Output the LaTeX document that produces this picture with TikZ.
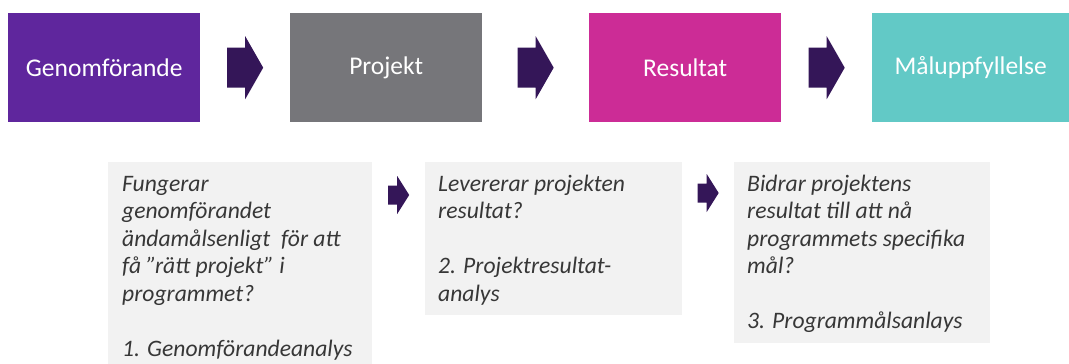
\documentclass[tikz,border=0pt]{standalone}
\usepackage{fontspec}
\setmainfont{Carlito}
\usetikzlibrary{calc}
\definecolor{cpurple}{RGB}{95,38,157}
\definecolor{cgrey}{RGB}{118,118,122}
\definecolor{cmagenta}{RGB}{204,44,150}
\definecolor{cteal}{RGB}{98,201,198}
\definecolor{carrow}{RGB}{52,22,88}
\definecolor{qgrey}{RGB}{242,242,242}
\definecolor{qtextc}{RGB}{55,55,55}
\begin{document}
\begin{tikzpicture}[x=1pt,y=-1pt,
  topbox/.style={rectangle, inner sep=0pt, minimum width=192pt, minimum height=109pt,
    anchor=north west, text=white, font=\fontsize{25.5}{30}\selectfont},
  qbox/.style={rectangle, fill=qgrey, inner sep=0pt, anchor=north west},
  qtext/.style={anchor=north west, inner sep=0pt, align=left, text=qtextc,
    font=\itshape\fontsize{23.6}{27.5}\selectfont},
  bigarrow/.pic={\fill[carrow] (-18,-20) -- (0,-20) -- (0,-31.5) -- (18,0) -- (0,31.5) -- (0,20) -- (-18,20) -- cycle;},
  smallarrow/.pic={\fill[carrow] (-10.5,-9.5) -- (-1.5,-9.5) -- (-1.5,-19) -- (10.5,0) -- (-1.5,19) -- (-1.5,9.5) -- (-10.5,9.5) -- cycle;}]
\useasboundingbox[fill=white] (0,0) rectangle (1069,364);
% top row
\node[topbox, fill=cpurple] (b1) at (8,13) {Genomförande};
\node[topbox, fill=cgrey] (b2) at (290,13) {Projekt};
\node[topbox, fill=cmagenta] (b3) at (589,13) {Resultat};
\node[topbox, fill=cteal, minimum width=197pt] (b4) at (872,13) {Måluppfyllelse};
\pic at ($(b1.east)!0.5!(b2.west)$) {bigarrow};
\pic at ($(b2.east)!0.5!(b3.west)$) {bigarrow};
\pic at ($(b3.east)!0.5!(b4.west)$) {bigarrow};
% question boxes
\node[qbox, minimum width=264pt, minimum height=202pt] (qa) at (108,162) {};
\node[qbox, minimum width=257pt, minimum height=153pt] (qb) at (425,162) {};
\node[qbox, minimum width=256pt, minimum height=181pt] (qc) at (734,162) {};
\node[qtext] (ta) at ($(qa.north west)+(14,10)$) {\strut Fungerar\\genomförandet\\ändamålsenligt\ \ för att\\få ”rätt projekt” i\\programmet?\\[27.5pt]1. Genomförandeanalys};
\node[qtext] (tb) at ($(qb.north west)+(13,10)$) {\strut Levererar projekten\\resultat?\\[27.5pt]2. Projektresultat-\\analys};
\node[qtext] (tc) at ($(qc.north west)+(13,10)$) {\strut Bidrar projektens\\resultat till att nå\\programmets specifika\\mål?\\[27.5pt]3. Programmålsanlays};
\pic at ($(qa.north east)!0.5!(qb.north west)+(0,33)$) {smallarrow};
\pic at ($(qb.north east)!0.5!(qc.north west)+(0,31)$) {smallarrow};
\end{tikzpicture}
\end{document}
